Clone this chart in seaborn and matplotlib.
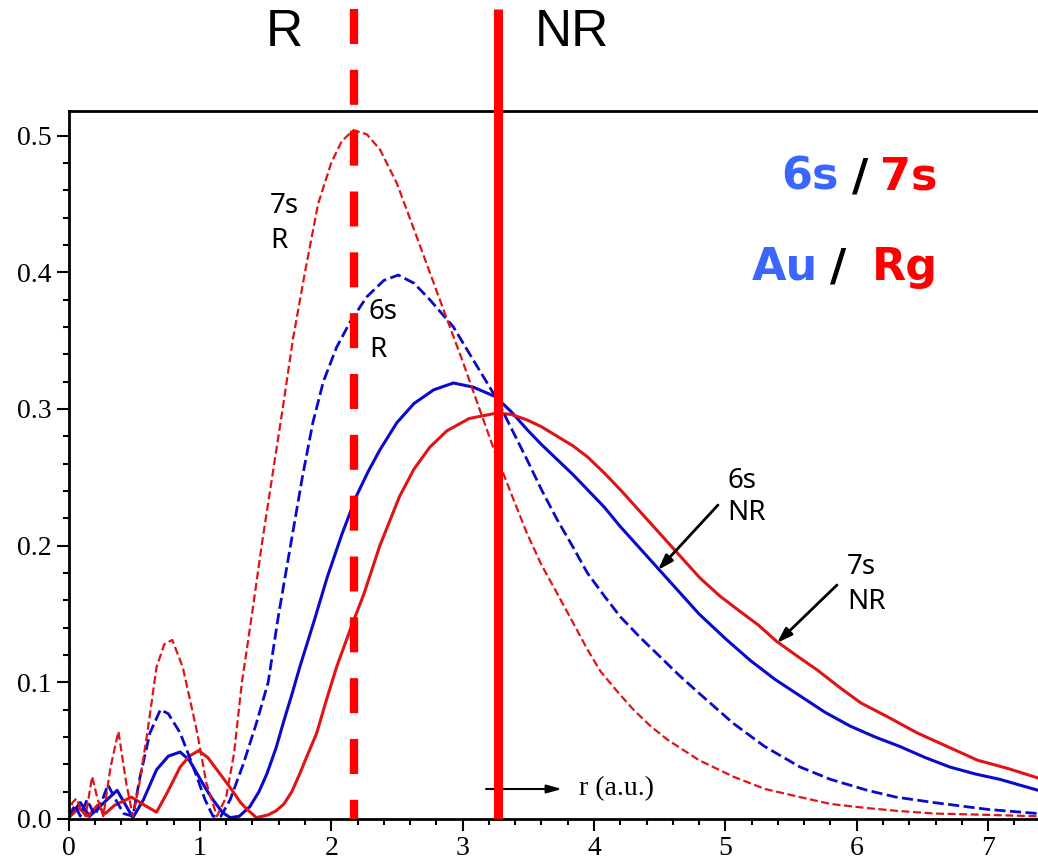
import numpy as np
import pandas as pd
import matplotlib
matplotlib.use("Agg")
import matplotlib.pyplot as plt
import seaborn as sns

# ---------------- data ----------------
# Rg 7s relativistic (red dashed)
r_7s_R = [0.00, 0.03, 0.06, 0.09, 0.13, 0.18, 0.22, 0.265, 0.32, 0.38, 0.44, 0.49, 0.54, 0.60,
          0.67, 0.73, 0.79, 0.87, 0.93, 0.98, 1.05, 1.13, 1.20, 1.26, 1.32, 1.40, 1.47, 1.55,
          1.63, 1.71, 1.80, 1.90, 2.00, 2.08, 2.17, 2.27, 2.37, 2.50, 2.62, 2.75, 2.88, 3.00,
          3.11, 3.24, 3.37, 3.49, 3.60, 3.72, 3.85, 3.95, 4.05, 4.18, 4.30, 4.43, 4.56, 4.80,
          5.06, 5.30, 5.57, 5.80, 6.08, 6.30, 6.59, 7.00, 7.38]
d_7s_R = [0.002, 0.012, 0.015, 0.008, 0.002, 0.031, 0.015, 0.002, 0.038, 0.064, 0.026, 0.002,
          0.026, 0.063, 0.111, 0.128, 0.131, 0.111, 0.085, 0.063, 0.026, 0.002, 0.016, 0.048,
          0.100, 0.152, 0.200, 0.250, 0.300, 0.352, 0.400, 0.450, 0.480, 0.496, 0.504, 0.501,
          0.490, 0.465, 0.434, 0.400, 0.366, 0.335, 0.305, 0.270, 0.238, 0.209, 0.186, 0.165,
          0.142, 0.124, 0.108, 0.093, 0.080, 0.068, 0.058, 0.043, 0.031, 0.022, 0.016, 0.011,
          0.008, 0.006, 0.004, 0.003, 0.002]

# Au 6s relativistic (blue dashed)
r_6s_R = [0.00, 0.05, 0.09, 0.14, 0.20, 0.25, 0.30, 0.36, 0.42, 0.49, 0.545, 0.62, 0.70, 0.76,
          0.85, 0.95, 1.04, 1.10, 1.16, 1.23, 1.33, 1.43, 1.52, 1.60, 1.69, 1.78, 1.86, 1.94,
          2.04, 2.14, 2.27, 2.40, 2.51, 2.63, 2.75, 2.84, 2.93, 3.08, 3.25, 3.37, 3.49, 3.60,
          3.72, 3.84, 3.95, 4.08, 4.20, 4.35, 4.50, 4.65, 4.80, 5.06, 5.30, 5.57, 5.80, 6.08,
          6.30, 6.59, 7.00, 7.38]
d_6s_R = [0.002, 0.010, 0.002, 0.014, 0.003, 0.012, 0.025, 0.014, 0.004, 0.002, 0.031, 0.063,
          0.080, 0.077, 0.063, 0.038, 0.014, 0.002, 0.002, 0.014, 0.040, 0.070, 0.100, 0.150,
          0.200, 0.250, 0.290, 0.320, 0.345, 0.363, 0.382, 0.394, 0.398, 0.392, 0.380, 0.370,
          0.360, 0.336, 0.309, 0.286, 0.263, 0.241, 0.219, 0.199, 0.180, 0.163, 0.148, 0.133,
          0.119, 0.105, 0.092, 0.070, 0.053, 0.038, 0.029, 0.021, 0.016, 0.012, 0.007, 0.004]

# Au 6s non-relativistic (blue solid)
r_6s_NR = [0.00, 0.09, 0.16, 0.27, 0.37, 0.49, 0.57, 0.67, 0.76, 0.85, 0.92, 0.98, 1.04, 1.10,
           1.17, 1.23, 1.30, 1.38, 1.45, 1.51, 1.58, 1.64, 1.70, 1.76, 1.87, 1.97, 2.08, 2.19,
           2.28, 2.37, 2.50, 2.63, 2.78, 2.93, 3.08, 3.25, 3.37, 3.49, 3.60, 3.72, 3.84, 3.95,
           4.08, 4.20, 4.35, 4.50, 4.65, 4.80, 5.00, 5.19, 5.38, 5.57, 5.76, 5.95, 6.14, 6.33,
           6.52, 6.71, 6.90, 7.09, 7.38]
d_6s_NR = [0.001, 0.012, 0.002, 0.012, 0.021, 0.001, 0.014, 0.036, 0.046, 0.049, 0.043, 0.033,
           0.023, 0.014, 0.005, 0.001, 0.002, 0.009, 0.020, 0.033, 0.052, 0.072, 0.091, 0.111,
           0.145, 0.177, 0.208, 0.236, 0.254, 0.270, 0.290, 0.304, 0.314, 0.319, 0.316, 0.309,
           0.298, 0.285, 0.274, 0.263, 0.252, 0.241, 0.228, 0.214, 0.198, 0.182, 0.166, 0.150,
           0.132, 0.116, 0.102, 0.090, 0.078, 0.068, 0.060, 0.053, 0.045, 0.038, 0.033, 0.029,
           0.021]

# Rg 7s non-relativistic (red solid)
r_7s_NR = [0.00, 0.08, 0.15, 0.22, 0.28, 0.35, 0.48, 0.58, 0.67, 0.75, 0.85, 0.92, 0.99, 1.06,
           1.13, 1.20, 1.26, 1.31, 1.36, 1.43, 1.52, 1.58, 1.64, 1.70, 1.76, 1.82, 1.89, 1.96,
           2.04, 2.15, 2.25, 2.37, 2.52, 2.63, 2.75, 2.88, 3.05, 3.26, 3.37, 3.49, 3.60, 3.72,
           3.84, 3.95, 4.08, 4.20, 4.35, 4.50, 4.65, 4.81, 4.96, 5.11, 5.25, 5.39, 5.55, 5.70,
           5.86, 6.03, 6.25, 6.46, 6.69, 6.92, 7.15, 7.38]
d_7s_NR = [0.001, 0.008, 0.002, 0.010, 0.004, 0.010, 0.016, 0.010, 0.005, 0.019, 0.038, 0.046,
           0.050, 0.045, 0.036, 0.027, 0.019, 0.012, 0.007, 0.001, 0.003, 0.006, 0.011, 0.020,
           0.033, 0.047, 0.063, 0.086, 0.111, 0.140, 0.165, 0.200, 0.236, 0.256, 0.272, 0.284,
           0.293, 0.297, 0.296, 0.292, 0.287, 0.280, 0.273, 0.265, 0.253, 0.241, 0.225, 0.209,
           0.193, 0.176, 0.163, 0.152, 0.142, 0.130, 0.119, 0.109, 0.097, 0.085, 0.074, 0.063,
           0.053, 0.043, 0.037, 0.030]

r_line_R = 2.17    # dashed marker line (R)
r_line_NR = 3.27   # solid marker line (NR)

x_ticks = [0, 1, 2, 3, 4, 5, 6, 7]
y_ticks = [0.0, 0.1, 0.2, 0.3, 0.4, 0.5]
y_tick_labels = ["0.0", "0.1", "0.2", "0.3", "0.4", "0.5"]

# ---------------- figure ----------------
sns.set_style("ticks")
plt.rcParams["font.family"] = ["DejaVu Sans"]
plt.rcParams["text.color"] = "black"
plt.rcParams["xtick.color"] = "black"
plt.rcParams["ytick.color"] = "black"
plt.rcParams["axes.edgecolor"] = "black"

W, H = 1038, 861
fig = plt.figure(figsize=(W / 100, H / 100), dpi=100)
ax_l, ax_r, ax_t, ax_b = 68.5, 1038, 111, 819
ax = fig.add_axes([ax_l / W, 1 - ax_b / H, (ax_r - ax_l) / W, (ax_b - ax_t) / H])

XMAX, YMAX = 7.38, 0.518
ax.set_xlim(0, XMAX)
ax.set_ylim(0, YMAX)

blue = "#0a0acc"
red = "#e01414"

series = [
    (r_6s_NR, d_6s_NR, blue, "-", 2.2),
    (r_7s_NR, d_7s_NR, red, "-", 2.2),
    (r_6s_R, d_6s_R, blue, (0, (4.0, 1.6)), 2.0),
    (r_7s_R, d_7s_R, red, (0, (3.6, 1.6)), 1.6),
]
for xs, ys, col, ls, lw in series:
    df = pd.DataFrame({"r": xs, "d": ys})
    sns.lineplot(data=df, x="r", y="d", ax=ax, color=col, linestyle=ls, linewidth=lw,
                 estimator=None, sort=False)

# vertical R / NR marker lines extending above the axes
top_data = (ax_b - 9) / (ax_b - ax_t) * YMAX
ax.plot([r_line_R, r_line_R], [top_data, 0], color="#ff0000", linewidth=6,
        linestyle=(0, (4.2, 3.1)), solid_capstyle="butt", dash_capstyle="butt",
        clip_on=False, zorder=5)
ax.plot([r_line_NR, r_line_NR], [top_data, 0], color="#ff0000", linewidth=6.5,
        solid_capstyle="butt", clip_on=False, zorder=5)

# axes styling
ax.set_xlabel("")
ax.set_ylabel("")
ax.set_xticks(x_ticks)
ax.set_xticklabels([str(t) for t in x_ticks])
ax.set_yticks(y_ticks)
ax.set_yticklabels(y_tick_labels)
ax.xaxis.set_minor_locator(matplotlib.ticker.MultipleLocator(0.2))
ax.yaxis.set_minor_locator(matplotlib.ticker.MultipleLocator(0.02))
ax.tick_params(which="major", direction="out", length=8.5, width=1.5, colors="black",
               labelsize=20, pad=4)
ax.tick_params(which="minor", direction="out", length=4.3, width=1.5, colors="black")
for lab in ax.get_xticklabels() + ax.get_yticklabels():
    lab.set_family(["Liberation Serif", "DejaVu Serif"])
    lab.set_color("black")
for side in ["left", "bottom", "top"]:
    ax.spines[side].set_visible(True)
    ax.spines[side].set_linewidth(2.0)
    ax.spines[side].set_color("black")
ax.spines["right"].set_visible(False)

def px2data(px, py):
    return (px - ax_l) / (ax_r - ax_l) * XMAX, (ax_b - py) / (ax_b - ax_t) * YMAX

# top R / NR labels
sans = ["Liberation Sans", "DejaVu Sans"]
x, y = px2data(284, 33)
ax.text(x, y, "R", fontsize=37, family=sans, ha="center", va="center", clip_on=False,
        color="black")
x, y = px2data(571.5, 33)
ax.text(x, y, "NR", fontsize=37, family=sans, ha="center", va="center", clip_on=False,
        color="black")

# curve labels
lab_font = ["Liberation Sans Narrow", "Noto Sans", "DejaVu Sans"]
for (px, py, s) in [(270, 206, "7s"), (270, 241, "R"), (369, 312.5, "6s"), (369, 350, "R"),
                    (727, 481, "6s"), (727, 513.5, "NR"), (847, 567, "7s"), (847, 602, "NR")]:
    x, y = px2data(px, py)
    ax.text(x, y, s, fontsize=20, family=lab_font, ha="left", va="center", color="black")

# arrows to NR curves
for (sx, sy, ex, ey) in [(718, 505, 658, 570), (837, 585, 777, 643)]:
    ax.annotate("", xy=px2data(ex, ey), xytext=px2data(sx, sy),
                arrowprops=dict(arrowstyle="-|>,head_length=0.9,head_width=0.3",
                                color="black", lw=2.0, shrinkA=0, shrinkB=0))

# r (a.u.) axis hint
ax.annotate("", xy=px2data(562, 789), xytext=px2data(486, 789),
            arrowprops=dict(arrowstyle="-|>,head_length=0.9,head_width=0.25",
                            color="black", lw=1.5, shrinkA=0, shrinkB=0))
x, y = px2data(579, 789)
ax.text(x, y, "r (a.u.)", fontsize=20, family=["Liberation Serif", "DejaVu Serif"],
        ha="left", va="center", color="black")

# legend-like coloured title
bold = ["DejaVu Sans"]
tblue, tred = "#3a66ff", "#ff0000"
for (px, py, s, col) in [(781.7, 190, "6s", tblue), (852, 190, "/", "black"),
                         (880, 190, "7s", tred), (751.7, 280, "Au", tblue),
                         (830, 280, "/", "black"), (872, 280, "Rg", tred)]:
    x, y = px2data(px, py)
    ax.text(x, y, s, fontsize=32, family=bold, fontweight="bold", color=col,
            ha="left", va="baseline")

fig.savefig("out.png", dpi=100)
